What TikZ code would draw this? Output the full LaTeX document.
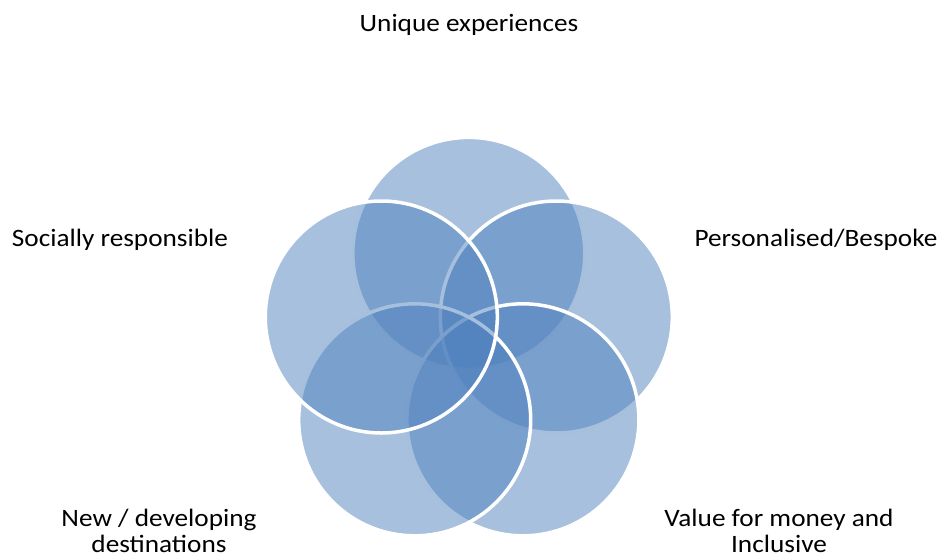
\documentclass[tikz,border=0pt]{standalone}
\usepackage{fontspec}
\setmainfont{Carlito}[FakeStretch=1.09]
\usetikzlibrary{calc}
\definecolor{accent}{RGB}{79,129,189}
\begin{document}
\begin{tikzpicture}[x=1pt,y=-1pt,
  venn/.style={circle, minimum size=232pt, inner sep=0pt, fill=accent, fill opacity=0.5, draw=white, draw opacity=1, line width=3.5pt},
  lbl/.style={font=\fontsize{25}{26}\selectfont, align=center, text=black, inner sep=0pt, anchor=base}]
\useasboundingbox (0,0) rectangle (945,557);
\coordinate (c) at (468.8,345.4);
\node[venn] (top) at ($(c)+(0,-92)$) {};
\node[venn] (right) at ($(c)+(87.5,-28.4)$) {};
\node[venn] (bright) at ($(c)+(54.1,74.4)$) {};
\node[venn] (bleft) at ($(c)+(-54.1,74.4)$) {};
\node[venn] (left) at ($(c)+(-87.5,-28.4)$) {};
\node[lbl] (tl) at (469,31) {Unique experiences};
\node[lbl] (rl) at (816,246) {Personalised/Bespoke};
\node[lbl] (ll) at (120,246) {Socially responsible};
\node[lbl] (brl) at (779,552) {Value for money and\\Inclusive};
\node[lbl] (bll) at (159,552) {New / developing\\destinations};
\end{tikzpicture}
\end{document}
